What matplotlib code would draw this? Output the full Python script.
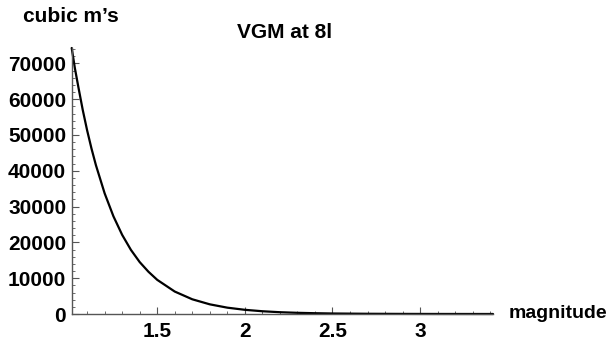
import matplotlib
matplotlib.use("Agg")
import matplotlib.pyplot as plt
from matplotlib.ticker import MultipleLocator

# values
magnitude = [1.012, 1.03, 1.05, 1.075, 1.1, 1.125, 1.15, 1.2, 1.25, 1.3, 1.35, 1.4,
             1.45, 1.5, 1.6, 1.7, 1.8, 1.9, 2.0, 2.1, 2.2, 2.3, 2.4, 2.5,
             2.7, 2.9, 3.1, 3.3, 3.416]
volume = [74300, 68700, 63400, 57000, 51300, 46200, 41600, 33700, 27300, 22100, 17900, 14500,
          11800, 9540, 6270, 4110, 2700, 1770, 1170, 770, 500, 330, 220, 140,
          62, 27, 11, 5, 3]

xticks = [1.5, 2, 2.5, 3]
xticklabels = ["1.5", "2", "2.5", "3"]
yticks = [0, 10000, 20000, 30000, 40000, 50000, 60000, 70000]

plt.rcParams['font.family'] = ['Liberation Sans', 'DejaVu Sans']
plt.rcParams['font.weight'] = 'bold'

fig = plt.figure(figsize=(6.12, 3.41), dpi=100)
ax = fig.add_axes([71.7 / 612, 1 - 314 / 341, (493 - 71.7) / 612, (314 - 48) / 341])

ax.plot(magnitude, volume, color='black', lw=1.6, solid_capstyle='round', clip_on=False)

ax.set_xlim(1.012, 3.416)
ax.set_ylim(0, 74300)

for s in ['top', 'right']:
    ax.spines[s].set_visible(False)
for s in ['left', 'bottom']:
    ax.spines[s].set_color('#555555')
    ax.spines[s].set_linewidth(1.0)

ax.set_xticks(xticks)
ax.set_xticklabels(xticklabels)
ax.set_yticks(yticks)
ax.set_yticklabels([str(v) for v in yticks])
ax.xaxis.set_minor_locator(MultipleLocator(0.1))
ax.yaxis.set_minor_locator(MultipleLocator(2000))
ax.tick_params(which='major', direction='in', length=5, width=0.8, color='#555555',
               labelsize=15, pad=6)
ax.tick_params(which='minor', direction='in', length=2.5, width=0.6, color='#555555')
ax.tick_params(axis='y', pad=4)

fig.text(71 / 612, 1 - 17 / 341, "cubic m\u2019s", ha='center', va='center',
         fontsize=15, fontweight='bold')
fig.text(285 / 612, 1 - 33 / 341, "VGM at 8l", ha='center', va='center',
         fontsize=15, fontweight='bold')
fig.text(607 / 612, 1 - 314 / 341, "magnitude", ha='right', va='center',
         fontsize=14, fontweight='bold')

fig.savefig("out.png", dpi=100)
